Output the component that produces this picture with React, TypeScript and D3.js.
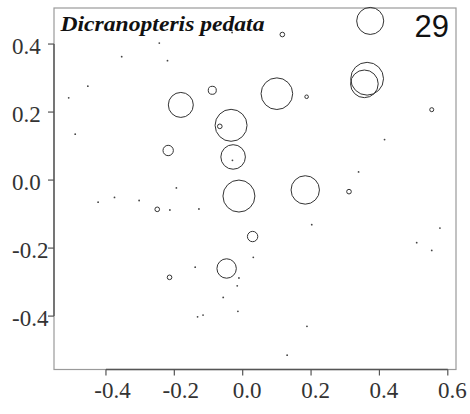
import React from "react";
import * as d3 from "d3";

const circleX = [0.373, 0.364, 0.356, 0.100, -0.181, -0.089, -0.034, -0.067, -0.028, -0.011, 0.183, -0.218, 0.029, -0.047, 0.116, 0.187, 0.553, 0.311, -0.250, -0.214];
const circleY = [0.468, 0.298, 0.283, 0.254, 0.221, 0.264, 0.161, 0.158, 0.068, -0.047, -0.029, 0.087, -0.166, -0.260, 0.428, 0.245, 0.207, -0.034, -0.086, -0.286];
const circleCover = [68, 100, 71, 93, 58, 6, 95, 2, 56, 95, 75, 10, 10, 35, 2, 1.2, 1.5, 2, 2, 2];

const dotX = [-0.354, -0.453, -0.509, -0.490, -0.244, -0.220, -0.031, -0.030, -0.194, 0.415, 0.339, -0.423, -0.375, -0.303, -0.213, -0.128, 0.031, -0.139, -0.011, -0.016, -0.057, -0.014, -0.132, -0.116, 0.202, 0.188, 0.130, 0.509, 0.553, 0.577];
const dotY = [0.363, 0.276, 0.242, 0.135, 0.403, 0.351, 0.434, 0.058, -0.023, 0.119, 0.024, -0.065, -0.051, -0.060, -0.088, -0.085, -0.227, -0.256, -0.288, -0.311, -0.345, -0.386, -0.402, -0.397, -0.131, -0.430, -0.515, -0.184, -0.207, -0.141];

const xTicks = [-0.4, -0.2, 0.0, 0.2, 0.4, 0.6];
const yTicks = [-0.4, -0.2, 0.0, 0.2, 0.4];
const title = "Dicranopteris pedata";
const panelLabel = "29";

export default function App() {
  const left = 54, right = 456, top = 8, bottom = 369.5;
  const x = d3.scaleLinear().domain([-0.552, 0.624]).range([left, right]);
  const y = d3.scaleLinear().domain([-0.557, 0.506]).range([bottom, top]);
  const r = d3.scaleSqrt().domain([0, 100]).range([0, 16.4]);
  const fmt = (v: number) => d3.format(".1f")(v).replace("−", "-");
  const serif = "'Liberation Serif', 'Times New Roman', serif";

  return (
    <svg width={470} height={414} style={{ position: "absolute", left: 0, top: 0, background: "#fff" }}>
      {/* frame */}
      <rect x={left} y={top} width={right - left} height={bottom - top} fill="none" stroke="#9a9a9a" strokeWidth={1.2} />
      {/* axis lines */}
      <line x1={left} x2={left} y1={y(yTicks[yTicks.length - 1])} y2={y(yTicks[0])} stroke="#555" strokeWidth={1.4} />
      <line y1={bottom} y2={bottom} x1={x(xTicks[0])} x2={x(xTicks[xTicks.length - 1])} stroke="#555" strokeWidth={1.4} />
      {yTicks.map((t) => (
        <g key={"y" + t}>
          <line x1={left - 6} x2={left} y1={y(t)} y2={y(t)} stroke="#555" strokeWidth={1.2} />
          <text x={12} y={y(t) + 10} fontFamily={serif} fontSize={23} fill="#333">{fmt(t)}</text>
        </g>
      ))}
      {xTicks.map((t) => (
        <g key={"x" + t}>
          <line x1={x(t)} x2={x(t)} y1={bottom} y2={bottom + 6} stroke="#555" strokeWidth={1.2} />
          <text x={x(t) + (t < 0 ? 6.5 : 4.5)} y={398} textAnchor="middle" fontFamily={serif} fontSize={23} fill="#333">{fmt(t)}</text>
        </g>
      ))}
      {dotX.map((v, i) => (
        <circle key={"d" + i} cx={x(v)} cy={y(dotY[i])} r={0.9} fill="#444" />
      ))}
      {circleX.map((v, i) => (
        <circle key={"c" + i} cx={x(v)} cy={y(circleY[i])} r={r(circleCover[i])} fill="none" stroke="#333" strokeWidth={1} />
      ))}
      <text x={60.5} y={30.5} fontFamily={serif} fontStyle="italic" fontWeight="bold" fontSize={21} textLength={204} lengthAdjust="spacingAndGlyphs" fill="#111">{title}</text>
      <text x={449} y={37} textAnchor="end" fontFamily="'Liberation Sans', Arial, sans-serif" fontSize={31} fill="#111">{panelLabel}</text>
    </svg>
  );
}
